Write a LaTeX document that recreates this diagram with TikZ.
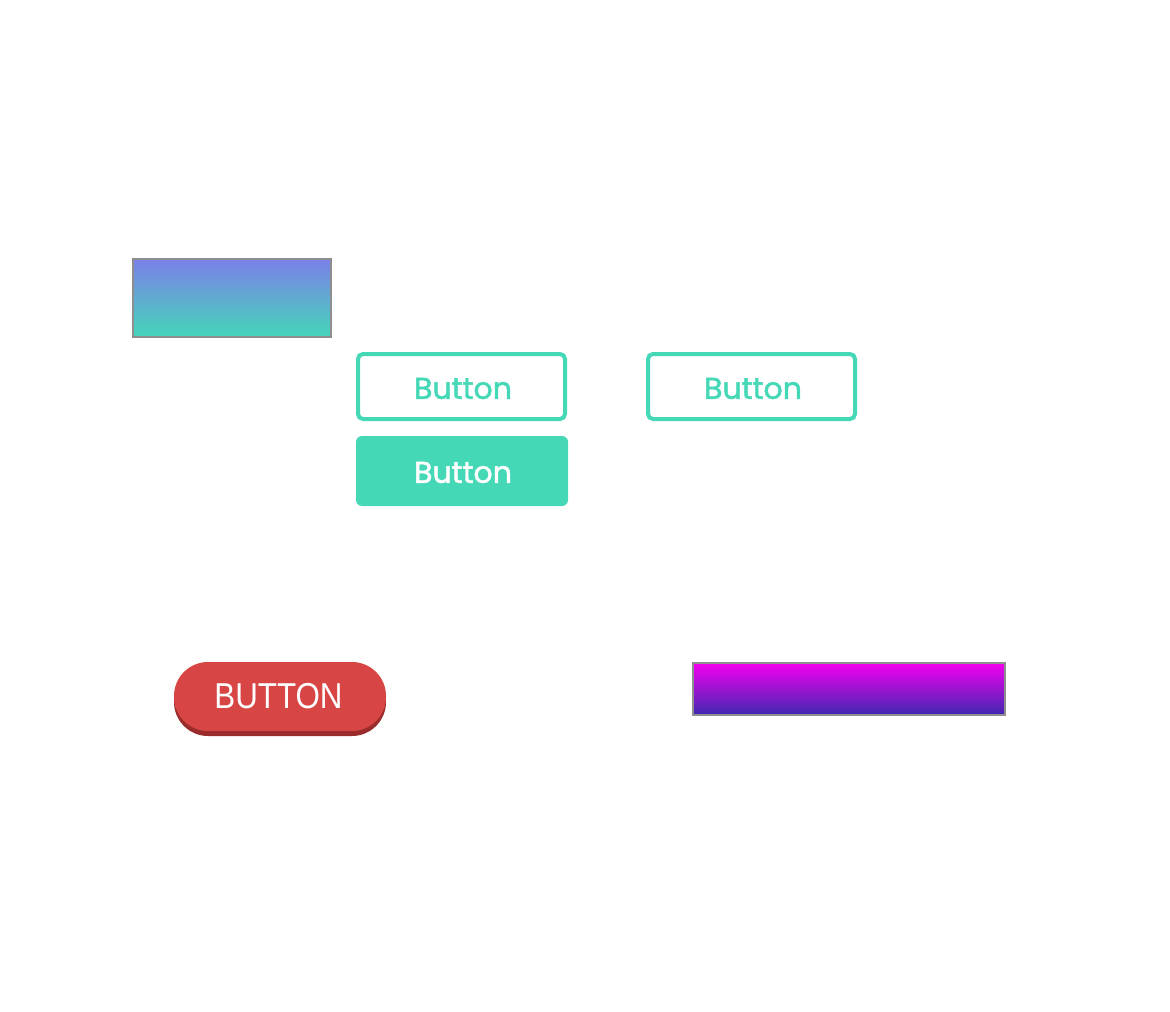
\documentclass[tikz,border=0pt]{standalone}
\usepackage{fontspec}
\newfontfamily\popfont[FakeBold=1.6]{Poppins}
\newfontfamily\arialfont{Liberation Sans}
\definecolor{teal}{HTML}{45D8B7}
\definecolor{gtop}{HTML}{7B80E8}
\definecolor{gbot}{HTML}{45D6B9}
\definecolor{redbtn}{HTML}{D84545}
\definecolor{redshadow}{HTML}{9A2C2C}
\definecolor{magtop}{HTML}{F400F0}
\definecolor{magbot}{HTML}{4028B0}
\definecolor{bordergray}{HTML}{8E8E8E}
\tikzset{
  outlinebtn/.style={draw=teal, line width=4pt, rounded corners=5pt, fill=white,
    minimum width=207pt, minimum height=65pt, inner sep=0pt, text=teal,
    font=\popfont\fontsize{30}{30}\selectfont},
  filledbtn/.style={fill=teal, rounded corners=6pt,
    minimum width=212pt, minimum height=70pt, inner sep=0pt, text=white,
    font=\popfont\fontsize{30}{30}\selectfont},
  gradbox/.style={draw=bordergray, line width=2pt, inner sep=0pt},
}
\begin{document}
\begin{tikzpicture}[x=1pt,y=-1pt]
\useasboundingbox (0,0) rectangle (1170,1012);
% gradient rectangle
\shade[top color=gtop, bottom color=gbot] (133,259) rectangle (331,337);
\node[gradbox, minimum width=198pt, minimum height=78pt] (grad1) at (232,298) {};
% outline buttons
\draw[teal, line width=4pt, rounded corners=5pt, fill=white] (358,354) rectangle (565,419);
\node[text=teal, font=\popfont\fontsize{30}{30}\selectfont] (b1) at (463,388.5) {Button};
\draw[teal, line width=4pt, rounded corners=5pt, fill=white] (648,354) rectangle (855,419);
\node[text=teal, font=\popfont\fontsize{30}{30}\selectfont] (b2) at (753,388.5) {Button};
% filled button
\fill[teal, rounded corners=6pt] (356,436) rectangle (568,506);
\node[text=white, font=\popfont\fontsize{30}{30}\selectfont] (b3) at (463,472.5) {Button};
% red pill button with shadow
\fill[redshadow, rounded corners=34pt] (174,667) rectangle (386,736);
\fill[redbtn, rounded corners=34pt] (174,662) rectangle (386,731);
\node[text=white, font=\arialfont\fontsize{36}{36}\selectfont] (red) at (278.5,696.5) {\scalebox{0.87}[1]{BUTTON}};
% magenta gradient bar
\shade[top color=magtop, bottom color=magbot] (693,663) rectangle (1005,715);
\node[gradbox, minimum width=312pt, minimum height=52pt] (grad2) at (849,689) {};
\end{tikzpicture}
\end{document}
